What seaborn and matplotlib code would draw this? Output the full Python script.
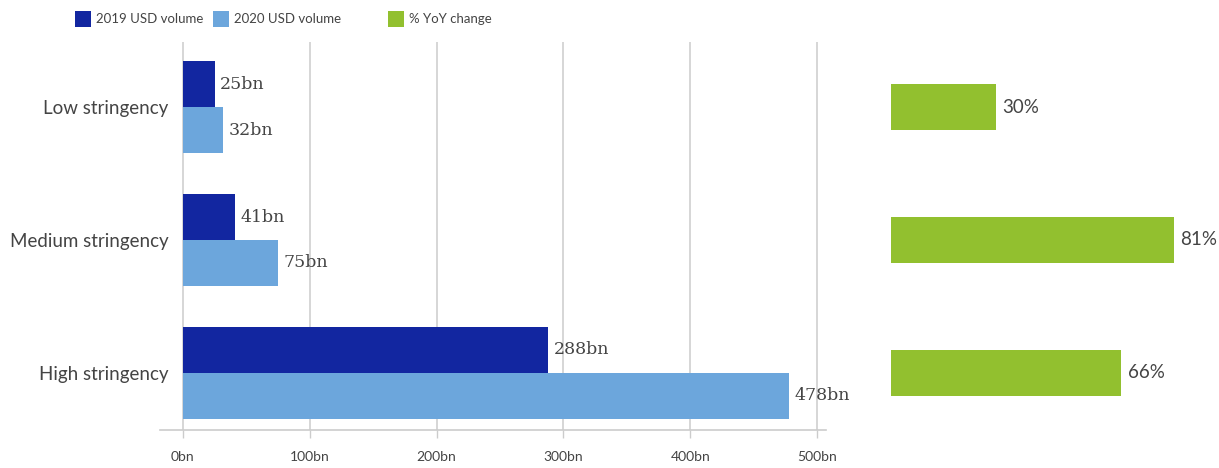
import pandas as pd
import matplotlib.pyplot as plt
import seaborn as sns

categories = ['Low stringency', 'Medium stringency', 'High stringency']
vol_2019 = [25, 41, 288]
vol_2020 = [32, 75, 478]
yoy_change = [30, 81, 66]
x_ticks = [0, 100, 200, 300, 400, 500]

DARK_BLUE = '#1226a0'
LIGHT_BLUE = '#6ca6dc'
GREEN = '#92c02f'
TEXT = '#444444'

sns.set_style('white')
plt.rcParams['font.family'] = ['Lato', 'DejaVu Sans']

df = pd.DataFrame({
    'category': categories * 2,
    'series': ['2019 USD volume'] * 3 + ['2020 USD volume'] * 3,
    'value': vol_2019 + vol_2020,
})
yoy_df = pd.DataFrame({'category': categories, 'change': yoy_change})

W, H = 1219, 468
fig = plt.figure(figsize=(W / 100, H / 100), dpi=100)
ax = fig.add_axes([160 / W, 1 - 430 / H, 666 / W, 388 / H])
ax2 = fig.add_axes([891 / W, 1 - 430 / H, 328 / W, 388 / H])

# volumes
sns.barplot(data=df, y='category', x='value', hue='series', orient='h',
            palette=[DARK_BLUE, LIGHT_BLUE], width=0.69, ax=ax, saturation=1,
            linewidth=0)
ax.set_xlim(-18, 507)
ax.set_ylim(2.43, -0.49)
ax.set_xticks(x_ticks)
ax.set_xticklabels([f'{t}bn' for t in x_ticks], color=TEXT, fontsize=10)
ax.tick_params(axis='x', length=6, width=1, color='#cccccc', pad=9, bottom=True)
ax.tick_params(axis='y', length=0, pad=-6, labelsize=13.5, labelcolor=TEXT)
ax.grid(axis='x', color='#d0d0d0', linewidth=1.2)
ax.set_axisbelow(True)
for s in ['top', 'right', 'left']:
    ax.spines[s].set_visible(False)
ax.spines['bottom'].set_color('#cccccc')
ax.spines['bottom'].set_linewidth(1.2)
ax.set_xlabel('')
ax.set_ylabel('')
for cont in ax.containers:
    ax.bar_label(cont, labels=[f'{v:.0f}bn' for v in cont.datavalues], padding=4,
                 fontsize=12.5, color=TEXT, family='DejaVu Serif')

# yoy change
sns.barplot(data=yoy_df, y='category', x='change', orient='h', color=GREEN,
            width=0.345, ax=ax2, saturation=1, label='% YoY change', linewidth=0)
ax2.set_xlim(0, 94)
ax2.set_ylim(2.43, -0.49)
ax2.axis('off')
ax2.bar_label(ax2.containers[0], labels=[f'{v:.0f}%' for v in yoy_change], padding=5,
              fontsize=13.5, color=TEXT)

# legend entries, each placed on its own
handles, labels = ax.get_legend_handles_labels()
ax.legend_.remove()
h2, l2 = ax2.get_legend_handles_labels()
if ax2.legend_ is not None:
    ax2.legend_.remove()
handles += h2
labels += l2
leg_x = [75, 213, 388]
for h, l, x in zip(handles, labels, leg_x):
    fig.legend([h], [l], loc='center left', bbox_to_anchor=(x / W, 1 - 19 / H),
               frameon=False, handlelength=1.2, handleheight=1.45,
               handletextpad=0.4, labelcolor=TEXT, borderaxespad=0,
               borderpad=0, fontsize=9.5)

fig.savefig('out.png', dpi=100)
